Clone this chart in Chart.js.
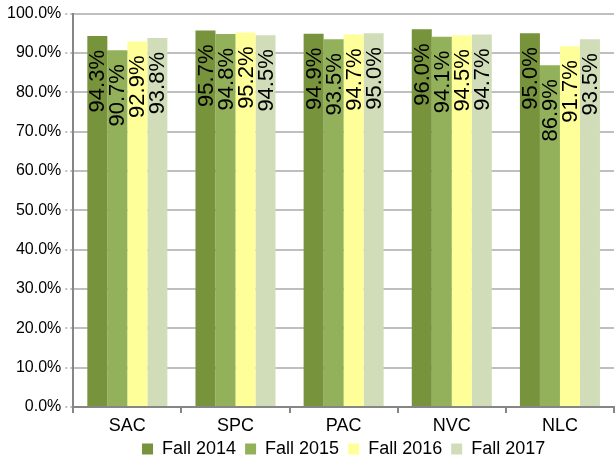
<!DOCTYPE html>
<html>
<head>
<meta charset="utf-8">
<script src="https://cdn.jsdelivr.net/npm/chart.js@4"></script>
<style>
  html, body { margin: 0; padding: 0; background: #fff; }
  #wrap { width: 615px; height: 459px; }
</style>
</head>
<body>
<div id="wrap"><canvas id="chart"></canvas></div>
<script>
'use strict';

var campuses = ['SAC', 'SPC', 'PAC', 'NVC', 'NLC'];
var terms = ['Fall 2014', 'Fall 2015', 'Fall 2016', 'Fall 2017'];
var fall2014 = [94.3, 95.7, 94.9, 96.0, 95.0];
var fall2015 = [90.7, 94.8, 93.5, 94.1, 86.9];
var fall2016 = [92.9, 95.2, 94.7, 94.5, 91.7];
var fall2017 = [93.8, 94.5, 95.0, 94.7, 93.5];
var colors = ['#77933c', '#93b15a', '#ffff99', '#d0ddb8'];

var series = [fall2014, fall2015, fall2016, fall2017];
var font = '"Liberation Sans", Arial, sans-serif';

// rotated value labels inside the top of each bar
var barLabels = {
    id: 'barLabels',
    afterDatasetsDraw: function(chart) {
        var ctx = chart.ctx;
        ctx.save();
        ctx.font = '22px ' + font;
        ctx.fillStyle = '#000';
        ctx.textAlign = 'right';
        ctx.textBaseline = 'middle';
        chart.data.datasets.forEach(function(ds, i) {
            var meta = chart.getDatasetMeta(i);
            meta.data.forEach(function(bar, j) {
                ctx.save();
                ctx.translate(bar.x, bar.y + 14);
                ctx.rotate(-Math.PI / 2);
                ctx.fillText(ds.data[j].toFixed(1) + '%', 0, 1);
                ctx.restore();
            });
        });
        ctx.restore();
    }
};

// legend: drop the 10px it reserves below itself,
// and center it under the plot area rather than the canvas
var legendFit = {
    id: 'legendFit',
    afterInit: function(chart) {
        var lg = chart.legend;
        if (!lg) return;
        var orig = lg.fit;
        lg.fit = function() {
            orig.call(this);
            this.height -= 10;
        };
    },
    afterLayout: function(chart) {
        var lg = chart.legend;
        var area = chart.chartArea;
        if (!lg || !area) return;
        var d = (area.left + area.right) / 2 - (lg.left + lg.right) / 2;
        lg.left += d;
        lg.right += d;
    }
};

var datasets = series.map(function(d, idx) {
    return {
        label: terms[idx],
        data: d,
        backgroundColor: colors[idx],
        borderWidth: 0,
        barPercentage: 1.0,
        categoryPercentage: 0.74
    };
});

var chart = new Chart(document.getElementById('chart').getContext('2d'), {
    type: 'bar',
    data: { labels: campuses, datasets: datasets },
    plugins: [barLabels, legendFit],
    options: {
        responsive: true,
        maintainAspectRatio: false,
        animation: false,
        layout: { padding: { top: 8, right: 1, left: 3, bottom: 1 } },
        plugins: {
            tooltip: { enabled: false },
            legend: {
                position: 'bottom',
                labels: {
                    font: { family: font, size: 18, lineHeight: 1 },
                    color: '#000',
                    boxWidth: 11,
                    boxHeight: 11,
                    padding: 0,
                    // legend padding is 0 to keep it tight under the axis,
                    // so spacing between entries comes from the text
                    generateLabels: function(chart) {
                        var items = Chart.defaults.plugins.legend.labels.generateLabels(chart);
                        items.forEach(function(it, i) {
                            it.lineWidth = 0;
                            if (i < items.length - 1) it.text = it.text + '\u2002';
                        });
                        return items;
                    }
                }
            }
        },
        scales: {
            x: {
                offset: true,
                grid: {
                    display: true,
                    offset: true,
                    drawOnChartArea: false,
                    drawTicks: true,
                    tickLength: 6,
                    color: '#868686',
                    lineWidth: 2
                },
                border: { color: '#868686', width: 2 },
                ticks: {
                    color: '#000',
                    font: { family: font, size: 18, lineHeight: 0.72 },
                    padding: 7
                }
            },
            y: {
                min: 0,
                max: 100,
                ticks: {
                    stepSize: 10,
                    color: '#000',
                    font: { family: font, size: 16 },
                    padding: 4,
                    callback: function(v) { return v.toFixed(1) + '%'; }
                },
                grid: {
                    color: '#bfbfbf',
                    lineWidth: 2,
                    tickLength: 8,
                    borderDash: [2, 3],
                    tickBorderDash: [2, 3]
                },
                border: { color: '#868686', width: 2 }
            }
        }
    }
});
</script>
</body>
</html>
